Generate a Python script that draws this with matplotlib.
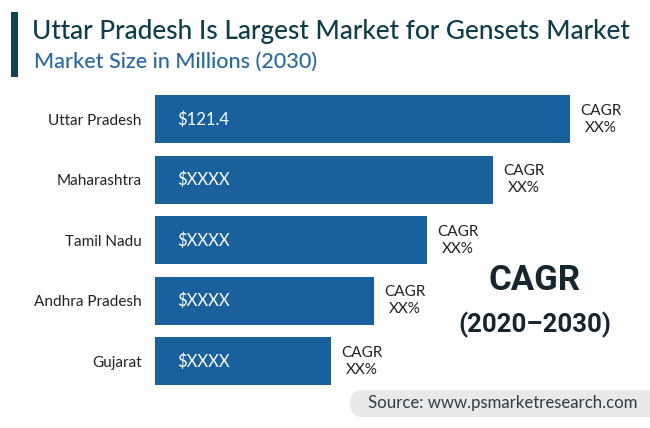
import matplotlib
matplotlib.use("Agg")
import matplotlib.pyplot as plt
from matplotlib.patches import Rectangle, FancyBboxPatch

states = ["Uttar Pradesh", "Maharashtra", "Tamil Nadu", "Andhra Pradesh", "Gujarat"]
values = [121.4, 98.9, 79.7, 64.1, 51.5]
bar_labels = ["$121.4", "$XXXX", "$XXXX", "$XXXX", "$XXXX"]
cagr_labels = ["CAGR\nXX%"] * 5
title = "Uttar Pradesh Is Largest Market for Gensets Market"
subtitle = "Market Size in Millions (2030)"
BLUE = "#19609c"
DARK = "#0f3d4c"
W, H = 650, 428
fam = ["Lato", "DejaVu Sans"]

fig = plt.figure(figsize=(W/100, H/100), dpi=100, facecolor="white")
bg = fig.add_axes([0, 0, 1, 1]); bg.set_xlim(0, W); bg.set_ylim(H, 0); bg.axis("off")
bg.add_patch(Rectangle((11, 12), 7, 65, color="#0f4356", lw=0))
bg.text(32, 31, title, fontsize=18.95, fontweight="medium", color=DARK, family=fam, va="center")
bg.text(34, 62, subtitle, fontsize=15.6, fontweight="medium", color="#2a689f", family=fam, va="center")
bg.add_patch(FancyBboxPatch((350, 390), 320, 27, boxstyle="round,pad=0,rounding_size=13", color="#e8e9ea", lw=0))
bg.text(368, 403, "Source: www.psmarketresearch.com", fontsize=12.1, color="#333b40", family=fam, va="center")
bg.text(535, 280, "CAGR", fontsize=25, fontweight="bold", color="#15262e", family="Roboto", va="center", ha="center")
bg.text(535, 325, "(2020–2030)", fontsize=18.5, fontweight="bold", color="#15262e", family="Roboto", va="center", ha="center")

ax = fig.add_axes([154.5/W, 1-386/H, 415.5/W, 291/H])
ax.patch.set_alpha(0)
y = list(range(len(states)))
ax.barh(y, values, height=0.793, color=BLUE)
ax.set_xlim(0, 121.4); ax.set_ylim(4.408, -0.402)
ax.set_yticks(y, states, fontsize=11, family=fam, color="#222222")
ax.set_xticks([])
ax.tick_params(axis="y", length=0, pad=9.4)
for s in ax.spines.values():
    s.set_visible(False)
for i, v in enumerate(values):
    ax.annotate(bar_labels[i], (0, i), xytext=(22.5, 0), textcoords="offset pixels", color="white", fontsize=12, family=fam, va="center")
    ax.annotate(cagr_labels[i], (v, i), xytext=(31, 0), textcoords="offset pixels", color="#222222", fontsize=11, family=fam, va="center", ha="center", linespacing=1.3, annotation_clip=False)
fig.savefig("out.png", dpi=100)
